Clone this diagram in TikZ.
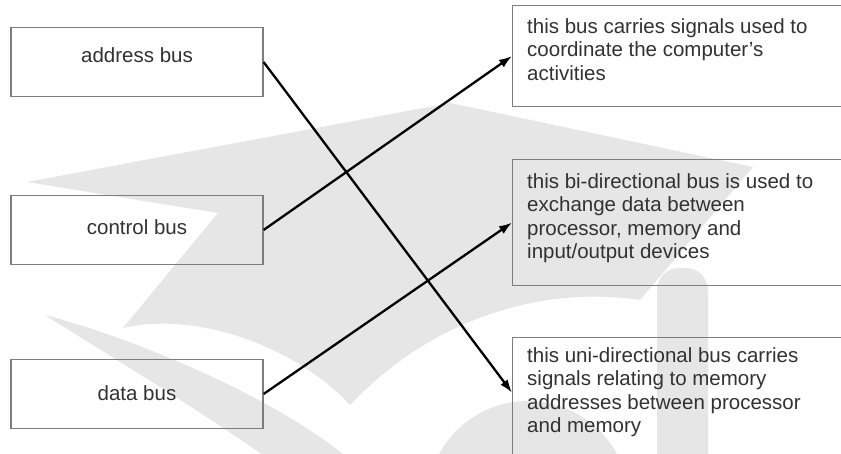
\documentclass[tikz,border=0pt]{standalone}
\usepackage{fontspec}
\setmainfont{Liberation Sans}
\usepackage{xcolor}
\usetikzlibrary{arrows.meta}

\definecolor{boxgray}{RGB}{125,125,125}
\definecolor{txtgray}{RGB}{50,50,50}
\definecolor{wmgray}{RGB}{230,230,230}

\begin{document}
\begin{tikzpicture}[x=1pt, y=-1pt,
    busbox/.style={draw=boxgray, line width=1.2pt, minimum width=252pt, minimum height=69pt,
      text=txtgray, font=\fontsize{20.5}{23.5}\selectfont, text height=15pt, text depth=0pt},
    descbox/.style={draw=boxgray, line width=1.2pt, minimum width=333pt, anchor=north west},
    desc/.style={anchor=north west, align=left, inner sep=0pt, text=txtgray,
      font=\fontsize{20.5}{23.5}\selectfont},
    link/.style={line width=2.3pt, -{Latex[length=13pt,width=9pt]}}]
  \path[use as bounding box, fill=white] (0,0) rectangle (841,454);

  % watermark
  \fill[wmgray] (27,182) -- (450,103) -- (753,167) -- (640,300)
    .. controls (540,285) and (430,320) .. (350,405)
    .. controls (300,350) and (200,310) .. (123,328) -- (218,213) -- cycle;
  \fill[wmgray] (45,315) .. controls (100,350) and (200,410) .. (270,460)
    -- (350,460) .. controls (280,400) and (140,340) .. (45,315) -- cycle;
  \fill[wmgray, rounded corners=22pt] (657,480) rectangle (708,268);
  \fill[wmgray] (528,502) circle[radius=101pt];

  % buses
  \node[busbox, text depth=13pt] (addr) at (137,62) {address bus};
  \node[busbox, text depth=5pt] (ctrl) at (137,230) {control bus};
  \node[busbox, text depth=3pt] (data) at (137,394) {data bus};

  % descriptions
  \node[descbox, minimum height=101pt] (r1) at (512,5) {};
  \node[descbox, minimum height=126pt] (r2) at (512,159) {};
  \node[descbox, minimum height=133pt] (r3) at (512,337) {};
  \node[desc] (t1) at (527,18) {this bus carries signals used to\\coordinate the computer’s\\activities};
  \node[desc] (t2) at (527,173) {this bi-directional bus is used to\\exchange data between\\processor, memory and\\input/output devices};
  \node[desc] (t3) at (527,347) {this uni-directional bus carries\\signals relating to memory\\addresses between processor\\and memory};

  \draw[link] (addr.east) -- ([yshift=11.5pt]r3.west);
  \draw[link] (ctrl.east) -- (r1.west);
  \draw[link] (data.east) -- (r2.west);
\end{tikzpicture}
\end{document}
